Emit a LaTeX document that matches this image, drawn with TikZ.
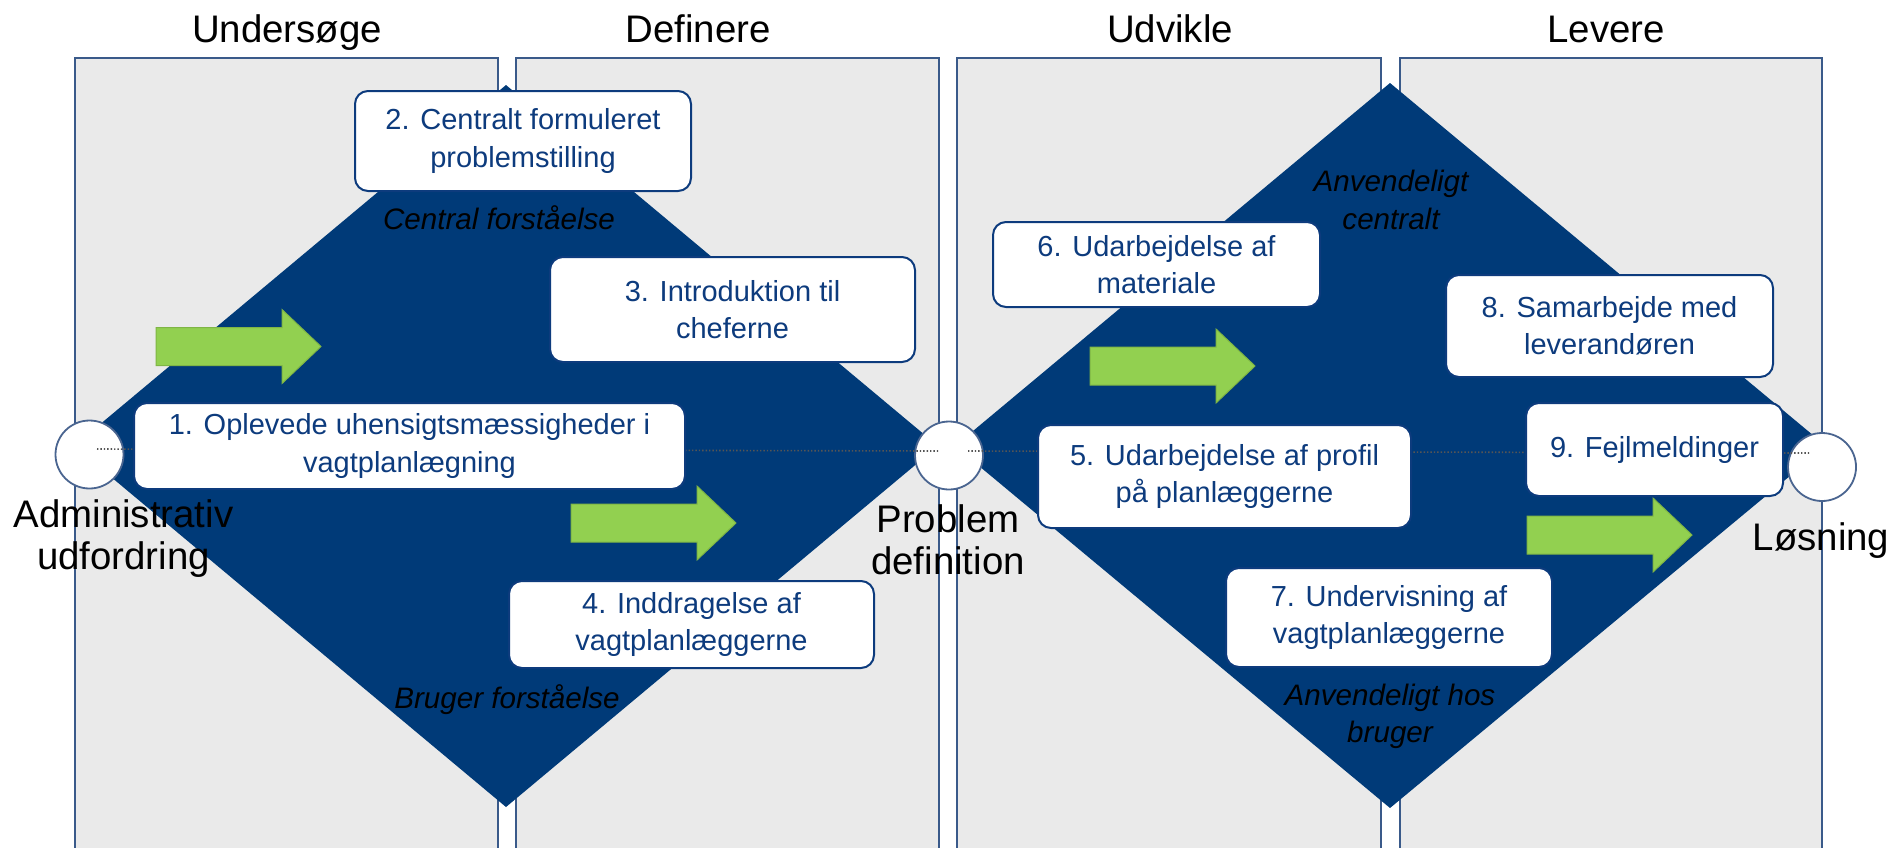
\documentclass[tikz,border=0pt]{standalone}
\usepackage{fontspec}
\setmainfont{Liberation Sans}
\definecolor{navy}{HTML}{003A78}
\definecolor{cardblue}{HTML}{0D3B7D}
\definecolor{panelgray}{HTML}{EAEAEA}
\definecolor{paneledge}{HTML}{3A5A8A}
\definecolor{ringedge}{HTML}{4A6590}
\definecolor{arrowgreen}{HTML}{92D050}
\definecolor{arrowedge}{HTML}{7FB545}
\definecolor{dotgray}{HTML}{555555}
\tikzset{
  phase/.style={fill=panelgray, draw=paneledge, line width=0.6pt},
  funnel/.style={fill=navy},
  milestone/.style={circle, draw=ringedge, line width=0.9pt, fill=white, minimum size=34pt, inner sep=0pt},
  stepcard/.style={draw=cardblue, line width=1pt, fill=white, rounded corners=6.5pt, text=cardblue, align=center, inner sep=0pt, font=\fontsize{14.5}{18.6}\selectfont},
  focus/.style={align=center, font=\fontsize{14.8}{18.6}\selectfont\itshape},
  heading/.style={anchor=base, font=\fontsize{19.2}{21}\selectfont},
  endlabel/.style={align=center, font=\fontsize{19.2}{21}\selectfont},
  pathline/.style={dotgray, line width=0.8pt, dash pattern=on 0.7pt off 1pt},
  push/.style={fill=arrowgreen, draw=arrowedge, line width=0.5pt},
}

\begin{document}
\begin{tikzpicture}[x=0.5pt,y=-0.5pt]
    \useasboundingbox (0,0) rectangle (1893,847);
    \clip (0,0) rectangle (1893,847);
    % phases
    \foreach \l/\r in {75/498,516/939,957/1381,1400/1822}{
        \draw[phase] (\l,58) rectangle (\r,870);
    }
    \node[heading] (undersoge) at (287,42) {Undersøge};
    \node[heading] (definere) at (698,42) {Definere};
    \node[heading] (udvikle) at (1170,42) {Udvikle};
    \node[heading] (levere) at (1606,42) {Levere};
    % diamonds
    \fill[funnel] (506,85) -- (938,446) -- (506,807) -- (74,446) -- cycle;
    \fill[funnel] (1390,83) -- (1826,446) -- (1390,808) -- (955,446) -- cycle;
    % milestones and the dotted line between them
    \node[milestone] (adm) at (89.5,454.5) {};
    \node[milestone] (prob) at (949,455.5) {};
    \node[milestone] (losn) at (1822,467) {};
    \coordinate (dotA) at (97,449);
    \coordinate (dotB) at (938,451);
    \coordinate (dotC) at (968,451);
    \coordinate (dotD) at (1810,453);
    \draw[pathline] (dotA) -- (dotB);
    \draw[pathline] (dotC) -- (dotD);
    % green arrows
    \foreach \ax/\ay in {156/346.5,571/523,1090/366,1527/535}{
        \draw[push] (\ax,{\ay-19}) -- ({\ax+126},{\ay-19}) -- ({\ax+126},{\ay-37})
            -- ({\ax+165},\ay) -- ({\ax+126},{\ay+37}) -- ({\ax+126},{\ay+19})
            -- (\ax,{\ay+19}) -- cycle;
    }
    % steps
    \node[stepcard, minimum width=275.5pt, minimum height=43pt] (s1) at (409.5,446) {1. Oplevede uhensigtsmæssigheder i\\vagtplanlægning};
    \node[stepcard, minimum width=168pt, minimum height=50pt] (s2) at (523,141) {2. Centralt formuleret\\problemstilling};
    \node[stepcard, minimum width=182.5pt, minimum height=52.5pt] (s3) at (732.5,309.5) {3. Introduktion til\\cheferne};
    \node[stepcard, minimum width=182.5pt, minimum height=43.5pt] (s4) at (691.5,624.5) {4. Inddragelse af\\vagtplanlæggerne};
    \node[stepcard, minimum width=186.5pt, minimum height=51.5pt] (s5) at (1224.5,476.5) {5. Udarbejdelse af profil\\på planlæggerne};
    \node[stepcard, minimum width=163.5pt, minimum height=42.5pt] (s6) at (1156.5,264.5) {6. Udarbejdelse af\\materiale};
    \node[stepcard, minimum width=163pt, minimum height=49.5pt] (s7) at (1389,617.5) {7. Undervisning af\\vagtplanlæggerne};
    \node[stepcard, minimum width=163.5pt, minimum height=51pt] (s8) at (1609.5,326) {8. Samarbejde med\\leverandøren};
    \node[stepcard, minimum width=128.5pt, minimum height=46.5pt] (s9) at (1654.5,449.5) {9. Fejlmeldinger};
    % focus labels
    \node[focus] (central) at (499,218) {Central forståelse};
    \node[focus] (bruger) at (507,700) {Bruger forståelse};
    \node[focus] (anvcentral) at (1391,200) {Anvendeligt\\centralt};
    \node[focus] (anvbruger) at (1390,716) {Anvendeligt hos\\bruger};
    % milestone labels
    \node[endlabel] (admlabel) at (123.5,539) {Administrativ\\udfordring};
    \node[endlabel] (problabel) at (948,540) {Problem\\definition};
    \node[endlabel, anchor=base] (losnlabel) at (1821,550) {Løsning};
\end{tikzpicture}
\end{document}
